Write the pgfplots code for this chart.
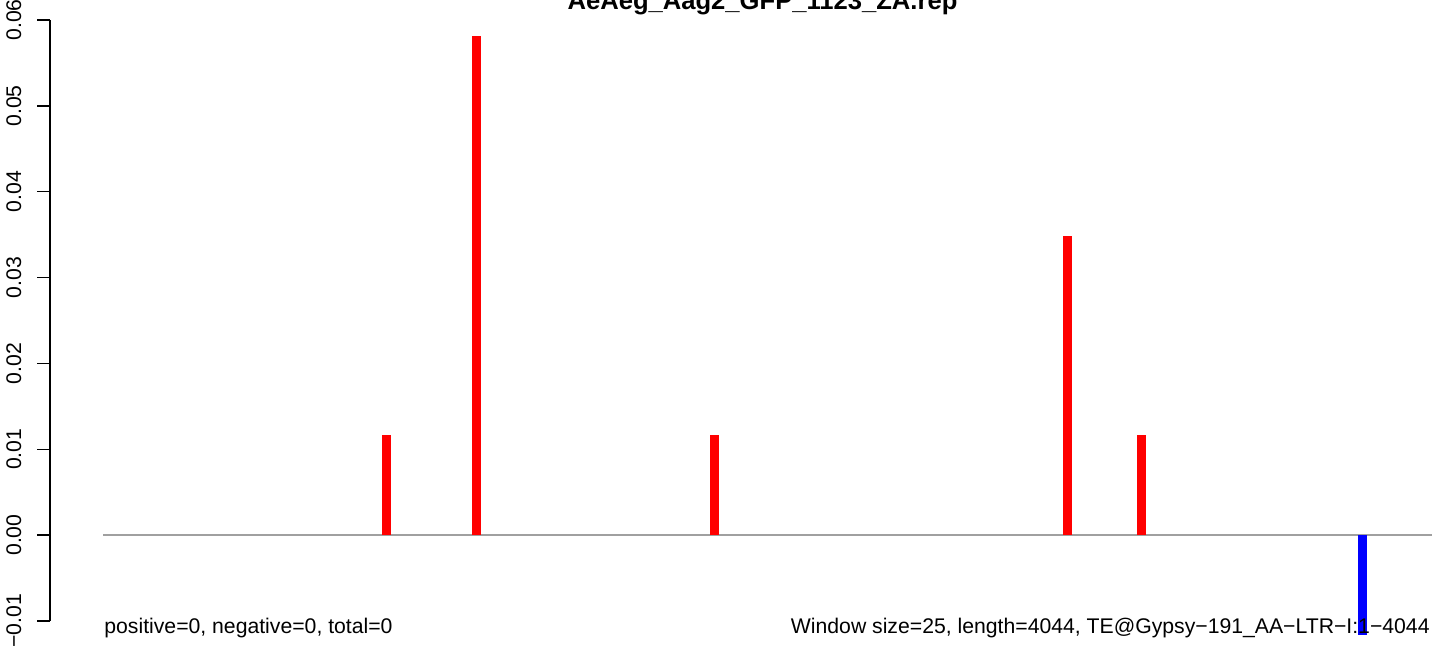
\documentclass[border=0pt]{standalone}
\usepackage{fontspec}
\setmainfont{Liberation Sans}
\usepackage{pgfplots}
\pgfplotsset{compat=1.18}
\definecolor{zeroline}{RGB}{160,160,160}
\begin{document}
\begin{tikzpicture}
\path[use as bounding box] (-25pt,-12.5pt) rectangle (697pt,310.5pt);
\begin{axis}[
  scale only axis, width=697pt, height=300.5pt,
  xmin=50, xmax=1444, ymin=-0.01, ymax=0.06,
  axis x line=none, axis y line*=left,
  axis line style={line width=0.75pt, black, -},
  scaled y ticks=false,
  ytick={-0.01,0,0.01,0.02,0.03,0.04,0.05,0.06},
  yticklabels={−0.01,0.00,0.01,0.02,0.03,0.04,0.05,0.06},
  tick align=outside, major tick length=6.5pt,
  tick style={line width=0.75pt, black},
  yticklabel style={rotate=90, anchor=base, yshift=8pt, font=\fontsize{10.6}{12}\selectfont},
  /pgf/number format/assume math mode=true,
  clip=false,
]
\addplot[zeroline, line width=0.75pt] coordinates {(103,0) (1432,0)};
\addplot[ycomb, red, line width=4.5pt, mark=none] coordinates {
  (386.5,0.011628) (476.5,0.058140) (714.5,0.011628) (1067.5,0.034884) (1141.5,0.011628)
};
\addplot[ycomb, blue, line width=4.5pt, mark=none] coordinates {
  (1362.5,-0.011628)
};
\node[anchor=base west, font=\fontsize{10.6}{12}\selectfont, inner sep=0pt] at (axis cs:104,-0.0114) {positive=0, negative=0, total=0};
\node[anchor=base east, font=\fontsize{10.6}{12}\selectfont, inner sep=0pt] at (axis cs:1430,-0.0114) {Window size=25, length=4044, TE@Gypsy−191\_AA−LTR−I:1−4044};
\node[anchor=base, font=\fontsize{12.8}{14}\selectfont\bfseries, inner sep=0pt] at (axis cs:762.5,0.06128) {AeAeg\_Aag2\_GFP\_1123\_ZA.rep};
\end{axis}
\end{tikzpicture}
\end{document}
